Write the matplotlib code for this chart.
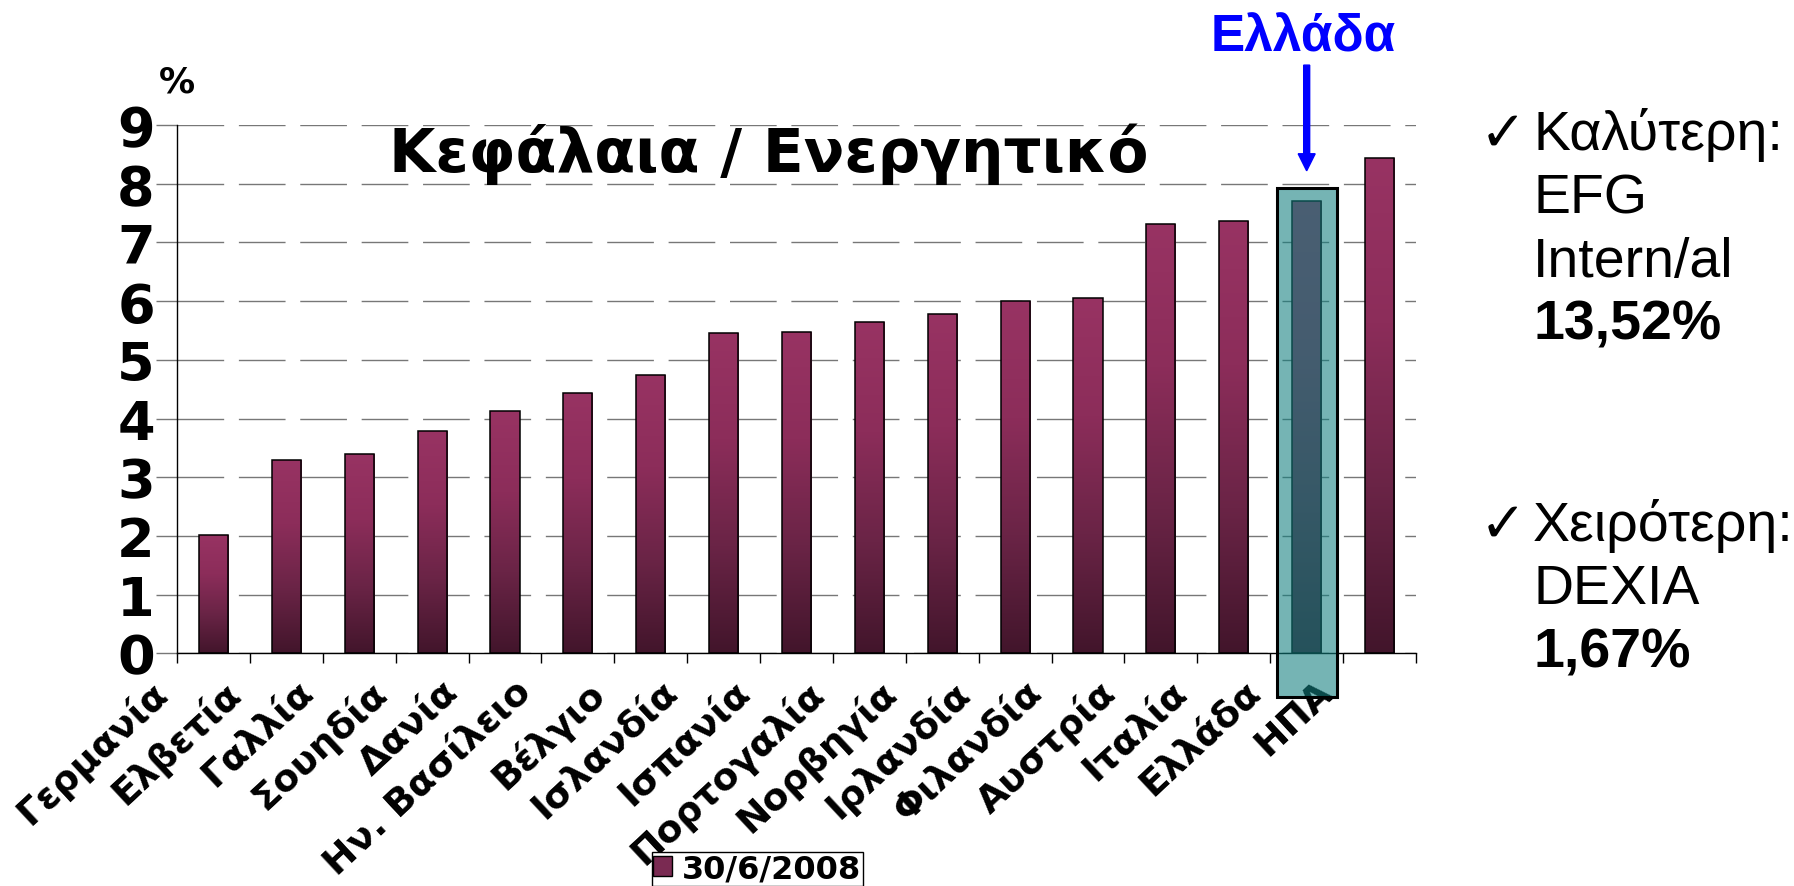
import numpy as np
import matplotlib
matplotlib.use("Agg")
import matplotlib.pyplot as plt
from matplotlib.patches import Rectangle, FancyArrow, Patch
from matplotlib.colors import LinearSegmentedColormap

# -----------------------------------------
# DATOS
# -----------------------------------------

xores = ["Γερμανία", "Ελβετία", "Γαλλία", "Σουηδία", "Δανία",
         "Ην. Βασίλειο", "Βέλγιο", "Ισλανδία", "Ισπανία", "Πορτογαλία",
         "Νορβηγία", "Ιρλανδία", "Φιλανδία", "Αυστρία", "Ιταλία",
         "Ελλάδα", "ΗΠΑ"]

kefalaia = [2.02, 3.30, 3.40, 3.78, 4.12, 4.44, 4.74, 5.46, 5.48, 5.65,
            5.78, 6.00, 6.05, 7.31, 7.37, 7.70, 8.44]

epilogi = 15          # barra resaltada (Ελλάδα)
plaisio_top = 7.93    # borde superior del recuadro
y_ticks = list(range(10))
seira = "30/6/2008"

plt.rcParams['font.family'] = ['DejaVu Sans']

W, H = 1794, 887
fig = plt.figure(figsize=(W / 100, H / 100), dpi=100)

# ejes en pixeles de la imagen
x0, x1, y0, y9 = 177, 1416, 654.3, 126
ax = fig.add_axes([x0 / W, 1 - y0 / H, (x1 - x0) / W, (y0 - y9) / H])

x = np.arange(len(xores)) + 0.5

# -----------------------------------------
# BARRAS CON DEGRADADO
# -----------------------------------------

grad = LinearSegmentedColormap.from_list(
    "bordo", ["#42152b", "#6a2446", "#8c2d5a", "#983363"])

barras = ax.bar(x, kefalaia, width=0.4, facecolor='none',
                edgecolor='black', linewidth=1.1, zorder=3)

g = np.linspace(0, 1, 256).reshape(-1, 1)
for barra, xi, h in zip(barras, x, kefalaia):
    im = ax.imshow(g, cmap=grad, origin='lower', aspect='auto',
                   extent=[xi - 0.2, xi + 0.2, 0, h], zorder=2.5)
    im.set_clip_path(barra)

ax.set_xlim(0, len(xores))
ax.set_ylim(0, 9)

# -----------------------------------------
# EJES Y REJILLA
# -----------------------------------------

ax.set_axisbelow(True)
ax.yaxis.grid(True, color='#777777', linewidth=1.0,
              linestyle=(0, (33.6, 10.6)))

for lado in ['top', 'right']:
    ax.spines[lado].set_visible(False)
ax.spines['left'].set_linewidth(1.0)
ax.spines['bottom'].set_linewidth(1.0)

ax.set_yticks(y_ticks)
ax.set_yticklabels([str(t) for t in y_ticks], fontsize=39, fontweight='bold')
ax.tick_params(axis='y', length=15, width=1, color='#777777', pad=1)

ax.set_xticks(np.arange(len(xores) + 1))
ax.set_xticklabels([])
ax.tick_params(axis='x', length=7, width=1, color='black')

for xi, nombre in zip(x, xores):
    ax.annotate(nombre, xy=(xi, 0), xycoords='data',
                xytext=(-46, -14), textcoords='offset points',
                ha='right', va='top', rotation=43, rotation_mode='anchor',
                fontsize=27, fontweight='bold', annotation_clip=False)

ax.text(0.0, 1.083, "%", transform=ax.transAxes, ha='center', va='center',
        fontsize=26, fontweight='bold')

# titulo: x en fraccion de ejes pasado a datos
ax.text(0.4774 * len(xores), 8.22, "Κεφάλαια / Ενεργητικό",
        ha='center', va='baseline', fontsize=43, fontweight='bold')

# -----------------------------------------
# RECUADRO Y FLECHA (Ελλάδα)
# -----------------------------------------

xe = x[epilogi]
plaisio = Rectangle((xe - 0.41, -0.745), 0.82, plaisio_top + 0.745,
                    facecolor=(17 / 255, 127 / 255, 127 / 255, 0.58),
                    edgecolor='black', linewidth=2.2,
                    clip_on=False, zorder=6)
ax.add_patch(plaisio)

velos = FancyArrow(xe, 10.02, 0, 8.22 - 10.02, width=0.082,
                   head_width=0.233, head_length=0.29,
                   length_includes_head=True, color='blue',
                   clip_on=False, zorder=7)
ax.add_patch(velos)

fig.text(1303.5 / W, 1 - 51 / H, "Ελλάδα", ha='center', va='baseline',
         fontsize=37, fontweight='bold', color='blue',
         family=['Liberation Sans', 'DejaVu Sans'])

# -----------------------------------------
# TEXTO LATERAL
# -----------------------------------------

fuente = ['Liberation Sans', 'DejaVu Sans']
grupos = [
    (150.5, [("Καλύτερη:", 'normal'), ("EFG", 'normal'),
             ("Intern/al", 'normal'), ("13,52%", 'bold')]),
    (541.5, [("Χειρότερη:", 'normal'), ("DEXIA", 'normal'),
             ("1,67%", 'bold')]),
]
for y_base, lineas in grupos:
    fig.text(1480 / W, 1 - y_base / H, "✓", ha='left', va='baseline',
             fontsize=40, family=fuente)
    for k, (txt, peso) in enumerate(lineas):
        fig.text(1533 / W, 1 - (y_base + k * 63) / H, txt, ha='left',
                 va='baseline', fontsize=40, fontweight=peso, family=fuente)

# -----------------------------------------
# LEYENDA
# -----------------------------------------

fig.legend(handles=[Patch(facecolor='#7a2a52', edgecolor='black')],
           labels=[seira], loc='upper left',
           bbox_to_anchor=(651.7 / W, 1 - 853 / H), borderaxespad=0,
           frameon=True, fancybox=False, edgecolor='black', framealpha=1,
           prop={'weight': 'bold', 'size': 23}, handlelength=0.6,
           handleheight=0.6, handletextpad=0.3, borderpad=0.05)

fig.savefig("out.png", dpi=100)
